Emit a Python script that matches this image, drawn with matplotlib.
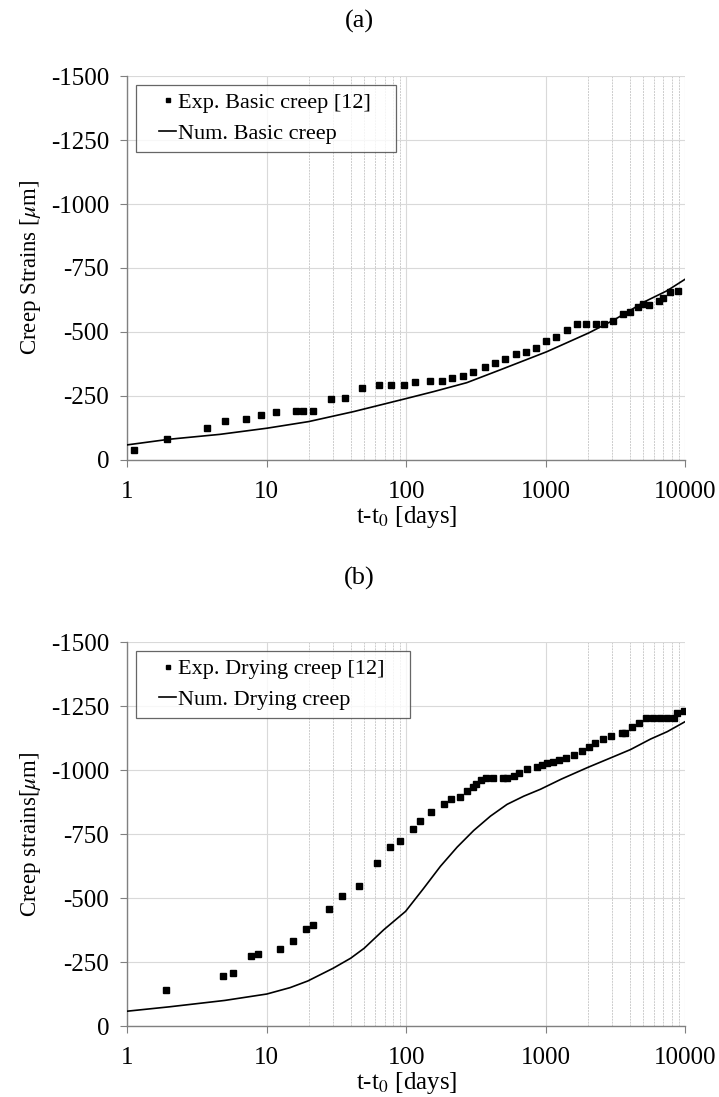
import matplotlib
matplotlib.use('Agg')
import numpy as np
import matplotlib.pyplot as plt
from matplotlib.lines import Line2D
from matplotlib.legend_handler import HandlerLine2D
from matplotlib.ticker import FixedLocator, NullFormatter

plt.rcParams['font.family'] = ['Liberation Serif', 'DejaVu Serif']
plt.rcParams['mathtext.fontset'] = 'stix'

# (a) basic creep - experimental points
basic_exp_t = [1.12, 1.92, 3.72, 4.99, 7.08, 9.07, 11.6, 16.2, 18.3, 21.3, 28.7, 36.5,
               48, 63.4, 78.1, 96.2, 116, 148, 182, 213, 257, 300, 367, 432, 515, 614,
               718, 856, 1006, 1192, 1412, 1683, 1955, 2285, 2619, 3062, 3580, 4049,
               4584, 4986, 5532, 6515, 6950, 7859, 8957]
basic_exp_eps = [40, 83, 125, 152, 161, 176, 189, 193, 193, 193, 240, 242, 280, 294, 294,
                 294, 305, 309, 309, 322, 329, 345, 363, 378, 394, 414, 423, 437, 465, 479,
                 506, 531, 531, 531, 531, 543, 572, 579, 598, 608, 607, 622, 634, 657, 661]

# (a) basic creep - numerical curve
basic_num_t = [1, 2, 4.6, 10, 20, 42, 100, 157, 272, 472, 1020, 2050, 3090, 4085, 5115,
               7415, 10000]
basic_num_eps = [59, 81, 100, 124, 150, 189, 240, 267, 302, 352, 423, 497, 547, 586, 618,
                 661, 706]

# (b) drying creep - experimental points
dry_exp_t = [1.90, 4.83, 5.69, 7.73, 8.69, 12.4, 15.4, 19.0, 21.3, 28.0, 34.9, 45.7, 62.1,
             76, 90.2, 111, 125, 151, 186, 209, 245, 275, 302, 318, 342, 374, 421, 492,
             532, 591, 644, 738, 863, 946, 1030, 1136, 1253, 1400, 1595, 1830, 2032, 2271,
             2572, 2931, 3518, 3733, 4142, 4660, 5277, 5933, 6628, 7413, 8336, 8778, 9802]
dry_exp_eps = [140, 194, 207, 272, 281, 300, 332, 379, 394, 458, 509, 548, 636, 698, 721,
               771, 802, 835, 868, 887, 895, 918, 932, 945, 961, 969, 969, 969, 969, 978,
               990, 1005, 1010, 1019, 1026, 1033, 1040, 1047, 1060, 1075, 1090, 1105, 1121,
               1133, 1143, 1143, 1169, 1185, 1205, 1205, 1205, 1205, 1205, 1222, 1232]

# (b) drying creep - numerical curve
dry_num_t = [1, 2, 5, 10, 14.7, 19.7, 30, 40, 50, 69, 99, 133, 176, 232, 305, 402, 529,
             697, 918, 1300, 2000, 3000, 4060, 5650, 7450, 10000]
dry_num_eps = [58, 75, 100, 125, 150, 176, 226, 265, 304, 376, 448, 537, 624, 699, 764,
               820, 866, 898, 925, 965, 1010, 1050, 1080, 1121, 1150, 1189]

yticks = [0, -250, -500, -750, -1000, -1250, -1500]
xticks = [1, 10, 100, 1000, 10000]
xtick_labels = ['1', '10', '100', '1000', '10000']
minor_grid = [20, 30, 40, 50, 60, 70, 80, 90, 2000, 3000, 4000, 5000, 6000, 7000, 8000, 9000]


class ShortHandle(HandlerLine2D):
    # keep only the right part of the handle box, like the Excel legend
    def create_artists(self, legend, orig_handle, xdescent, ydescent, width, height,
                       fontsize, trans):
        arts = super().create_artists(legend, orig_handle, xdescent, ydescent, width,
                                      height, fontsize, trans)
        x0 = -xdescent + 0.47 * width
        x1 = width - xdescent
        for a in arts:
            if isinstance(a, Line2D):
                n = len(a.get_xdata())
                if n == 1:
                    a.set_xdata([(x0 + x1) / 2])
                else:
                    a.set_xdata(np.linspace(x0, x1, n))
        return arts


fig = plt.figure(figsize=(7.19, 10.97), dpi=100)

panels = [
    (0.5807, '(a)', 0.980, basic_exp_t, basic_exp_eps, basic_num_t, basic_num_eps,
     'Exp. Basic creep [12]', 'Num. Basic creep', r'Creep Strains [$\mu$m]'),
    (0.0647, '(b)', 0.473, dry_exp_t, dry_exp_eps, dry_num_t, dry_num_eps,
     'Exp. Drying creep [12]', 'Num. Drying creep', r'Creep strains[$\mu$m]'),
]

for bottom, tag, tag_y, et, ee, nt, ne, exp_lab, num_lab, ylab in panels:
    ax = fig.add_axes([0.1771, bottom, 0.7757, 0.3500])
    l1, = ax.plot(et, [-v for v in ee], 's', color='black', ms=4.8, label=exp_lab + '   ',
                  zorder=3)
    l2, = ax.plot(nt, [-v for v in ne], '-', color='black', lw=1.2, label=num_lab, zorder=3)

    ax.set_xscale('log')
    ax.set_xlim(1, 10000)
    ax.set_ylim(0, -1500)
    ax.set_xticks(xticks)
    ax.set_xticklabels(xtick_labels)
    ax.xaxis.set_minor_locator(FixedLocator(minor_grid))
    ax.xaxis.set_minor_formatter(NullFormatter())
    ax.set_yticks(yticks)
    ax.set_yticklabels([str(v) for v in yticks])

    ax.grid(True, which='major', color='#d9d9d9', lw=0.8)
    ax.grid(True, which='minor', axis='x', color='#cccccc', lw=0.7, ls=(0, (2, 1)))
    ax.set_axisbelow(True)

    for s in ['top', 'right']:
        ax.spines[s].set_visible(False)
    for s in ['left', 'bottom']:
        ax.spines[s].set_color('#808080')
        ax.spines[s].set_linewidth(1.0)
    ax.tick_params(which='major', direction='out', length=5, color='#808080',
                   labelsize=18)
    ax.tick_params(axis='y', pad=8)
    ax.tick_params(axis='x', pad=10)
    ax.tick_params(which='minor', length=0)

    ax.set_xlabel('t-t$_0$ [days]', fontsize=18, labelpad=1)
    ax.set_ylabel(ylab, fontsize=16.5, labelpad=6)

    leg = ax.legend(handles=[l1, l2], loc='upper left', fontsize=16, frameon=True,
                    fancybox=False, handlelength=1.45, handletextpad=0.1, borderpad=0.35,
                    labelspacing=0.45, borderaxespad=0.4, markerscale=0.75,
                    handler_map={Line2D: ShortHandle()})
    leg.get_frame().set_edgecolor('#404040')
    leg.get_frame().set_linewidth(0.9)

    fig.text(0.5, tag_y, tag, ha='center', va='center', fontsize=19)

fig.savefig('out.png', dpi=100)
